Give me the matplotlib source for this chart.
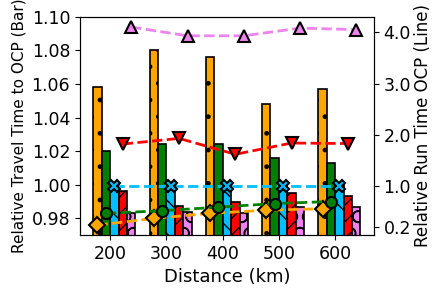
import numpy as np
import matplotlib.pyplot as plt

distances = ["200", "300", "400", "500", "600"]

# bar values (left axis)
bar_orange = [1.058, 1.080, 1.076, 1.048, 1.057]
bar_green = [1.020, 1.024, 1.024, 1.016, 1.013]
bar_blue = [1.000, 1.000, 1.000, 1.000, 1.000]
bar_red = [0.996, 0.9875, 0.990, 0.995, 0.993]
bar_violet = [0.983, 0.984, 0.983, 0.987, 0.987]

# line values (right axis)
line_orange = [0.24, 0.37, 0.47, 0.53, 0.56]
line_green = [0.47, 0.52, 0.59, 0.66, 0.70]
line_blue = [1.0, 1.0, 1.0, 1.0, 1.0]
line_red = [1.82, 1.93, 1.62, 1.84, 1.83]
line_violet = [4.10, 3.93, 3.93, 4.08, 4.05]

colors = ["orange", "green", "deepskyblue", "red", "violet"]
hatches = [".", "", "\\", "//", "O"]
markers = ["D", "o", "X", "v", "^"]
bars = [bar_orange, bar_green, bar_blue, bar_red, bar_violet]
lines = [line_orange, line_green, line_blue, line_red, line_violet]

x = np.arange(len(distances))
w = 0.15

fig, ax = plt.subplots(figsize=(4.44, 2.95), dpi=100)
ax2 = ax.twinx()

for i in range(5):
    pos = x + (i - 1.5) * w
    ax.bar(pos, bars[i], w, color=colors[i], hatch=hatches[i], edgecolor="black", linewidth=1.2)
    ax2.plot(pos, lines[i], "--", color=colors[i], marker=markers[i], markersize=8,
             markeredgecolor="black", markeredgewidth=1.5, linewidth=2)

ax.set_ylim(0.97, 1.10)
ax.set_yticks([0.98, 1.00, 1.02, 1.04, 1.06, 1.08, 1.10])
ax2.set_ylim(0.045, 4.3)
ax2.set_yticks([0.2, 1.0, 2.0, 3.0, 4.0])
ax.set_xticks(x)
ax.set_xticklabels(distances)
ax.tick_params(labelsize=12.5)
ax2.tick_params(labelsize=12.5)
ax.set_xlabel("Distance (km)", fontsize=13)
ax.set_ylabel("Relative Travel Time to OCP (Bar)", fontsize=11)
ax2.set_ylabel("Relative Run Time OCP (Line)", fontsize=12, labelpad=2)

plt.subplots_adjust(left=0.18, right=0.842, top=0.943, bottom=0.203)
plt.savefig("out.png")
